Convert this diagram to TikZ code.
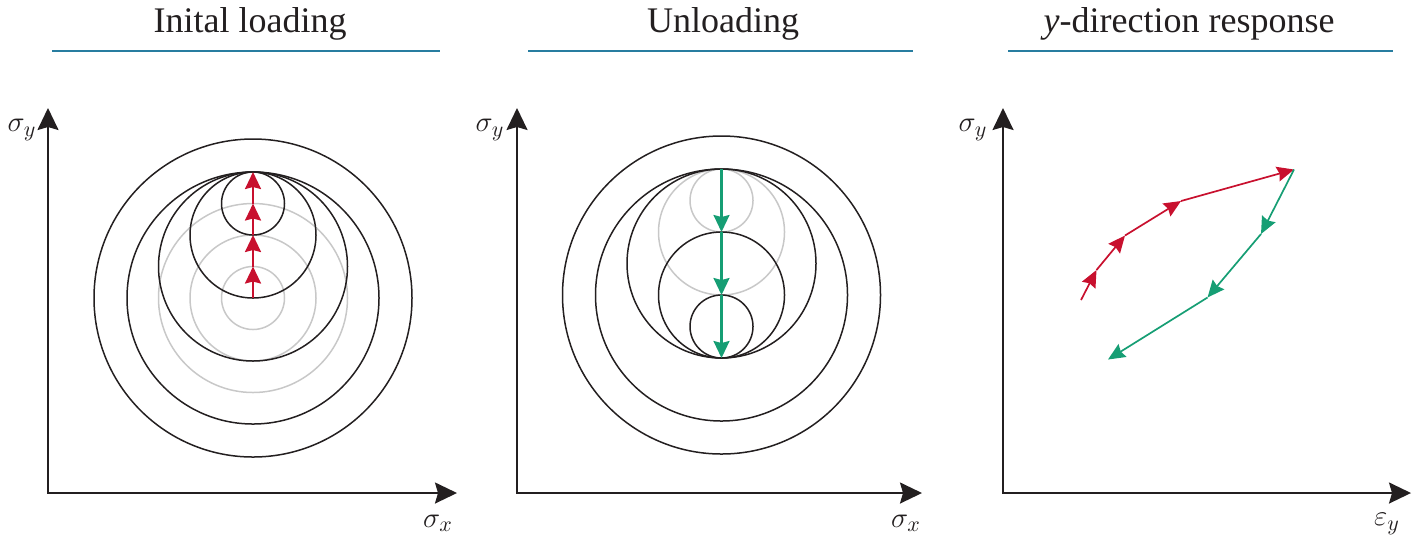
\documentclass[tikz,border=0pt]{standalone}
\usepackage{fontspec}
\newfontfamily\titlefont{Liberation Serif}
\usetikzlibrary{arrows.meta}
\definecolor{ink}{RGB}{35,31,32}
\definecolor{ured}{RGB}{200,16,46}
\definecolor{ugreen}{RGB}{22,158,116}
\definecolor{ugray}{RGB}{200,200,200}
\definecolor{ublue}{RGB}{40,125,160}
\begin{document}
\begin{tikzpicture}[x=0.5pt,y=-0.5pt,
  axis/.style={draw=ink, line width=1pt, line join=miter,
    arrows={Stealth[length=11pt,width=10.5pt,inset=1.5pt]-Stealth[length=11pt,width=10.5pt,inset=1.5pt]}},
  yield/.style={draw=ink, line width=0.75pt},
  ghost/.style={draw=ugray, line width=0.75pt},
  loadarrow/.style={draw=ured, line width=1.1pt, -{Stealth[length=8.5pt,width=8pt,inset=1pt]}},
  unloadarrow/.style={draw=ugreen, line width=1.1pt, -{Stealth[length=8.5pt,width=8pt,inset=1pt]}},
  resp/.style={line width=0.85pt, -{Stealth[length=8.5pt,width=7.5pt,inset=1pt]}},
  title/.style={font=\titlefont\fontsize{18}{21}\selectfont, anchor=base, text=ink},
  rulestyle/.style={draw=ublue, line width=1pt},
  lab/.style={font=\fontsize{15}{18}\selectfont, text=ink, inner sep=0pt}]
\useasboundingbox (0,0) rectangle (1416,543);

% ---------- titles and rules ----------
\node[title] (t1) at (250,32) {Inital loading};
\node[title] (t2) at (723,32) {Unloading};
\node[title] (t3) at (1189,32) {\textit{y}-direction response};
\coordinate (r1a) at (52,51);   \coordinate (r1b) at (440,51);
\coordinate (r2a) at (528,51);  \coordinate (r2b) at (913,51);
\coordinate (r3a) at (1008,51); \coordinate (r3b) at (1393,51);
\draw[rulestyle] (r1a) -- (r1b);
\draw[rulestyle] (r2a) -- (r2b);
\draw[rulestyle] (r3a) -- (r3b);

% ---------- axes ----------
\coordinate (O1) at (48,493);   \coordinate (Y1) at (48,108);   \coordinate (X1) at (457,493);
\coordinate (O2) at (517,493);  \coordinate (Y2) at (517,108);  \coordinate (X2) at (922,493);
\coordinate (O3) at (1003,493); \coordinate (Y3) at (1003,108); \coordinate (X3) at (1411,493);
\draw[axis] (Y1) -- (O1) -- (X1);
\draw[axis] (Y2) -- (O2) -- (X2);
\draw[axis] (Y3) -- (O3) -- (X3);
\node[lab] (ly1) at (22,130) {$\sigma_y$};
\node[lab] (lx1) at (438,523) {$\sigma_x$};
\node[lab] (ly2) at (490,130) {$\sigma_y$};
\node[lab] (lx2) at (906,523) {$\sigma_x$};
\node[lab] (ly3) at (973,130) {$\sigma_y$};
\node[lab] (lx3) at (1387,524) {$\varepsilon_y$};

% ---------- panel 1: initial loading ----------
\coordinate (A0) at (253,298);
\coordinate (A1) at (253,266.5);
\coordinate (A2) at (253,235);
\coordinate (A3) at (253,203.5);
\coordinate (A4) at (253,172);
\draw[ghost] (A0) circle[radius=15.75pt];
\draw[ghost] (A0) circle[radius=31.5pt];
\draw[ghost] (A0) circle[radius=47.25pt];
\draw[yield] (A0) circle[radius=79.5pt];
\draw[yield] (A0) circle[radius=63pt];
\draw[yield] (A1) circle[radius=47.25pt];
\draw[yield] (A2) circle[radius=31.5pt];
\draw[yield] (A3) circle[radius=15.75pt];
\draw[loadarrow] (A0) -- (A1);
\draw[loadarrow] (A1) -- (A2);
\draw[loadarrow] (A2) -- (A3);
\draw[loadarrow] (A3) -- (A4);

% ---------- panel 2: unloading ----------
\coordinate (B0) at (721.5,295);
\coordinate (Bt) at (721.5,169);
\coordinate (Bu1) at (721.5,200.5);
\coordinate (Bu2) at (721.5,232);
\coordinate (Bu3) at (721.5,263.5);
\coordinate (Bd1) at (721.5,326.5);
\coordinate (Bb) at (721.5,358);
\draw[ghost] (Bu2) circle[radius=31.5pt];
\draw[ghost] (Bu1) circle[radius=15.75pt];
\draw[yield] (B0) circle[radius=79.5pt];
\draw[yield] (B0) circle[radius=63pt];
\draw[yield] (Bu3) circle[radius=47.25pt];
\draw[yield] (B0) circle[radius=31.5pt];
\draw[yield] (Bd1) circle[radius=15.75pt];
\draw[unloadarrow] (Bt) -- (Bu2);
\draw[unloadarrow] (Bu2) -- (B0);
\draw[unloadarrow] (B0) -- (Bb);

% ---------- panel 3: y-direction response ----------
\coordinate (P0) at (1081,300);
\coordinate (P1) at (1096.5,270);
\coordinate (P2) at (1125,235.5);
\coordinate (P3) at (1181,201);
\coordinate (P4) at (1294,169.5);
\coordinate (Q1) at (1261,234);
\coordinate (Q2) at (1207.5,297.5);
\coordinate (Q3) at (1108,359.5);
\draw[resp, draw=ured] (P0) -- (P1);
\draw[resp, draw=ured] (P1) -- (P2);
\draw[resp, draw=ured] (P2) -- (P3);
\draw[resp, draw=ured] (P3) -- (P4);
\draw[resp, draw=ugreen] (P4) -- (Q1);
\draw[resp, draw=ugreen] (Q1) -- (Q2);
\draw[resp, draw=ugreen] (Q2) -- (Q3);
\end{tikzpicture}
\end{document}
